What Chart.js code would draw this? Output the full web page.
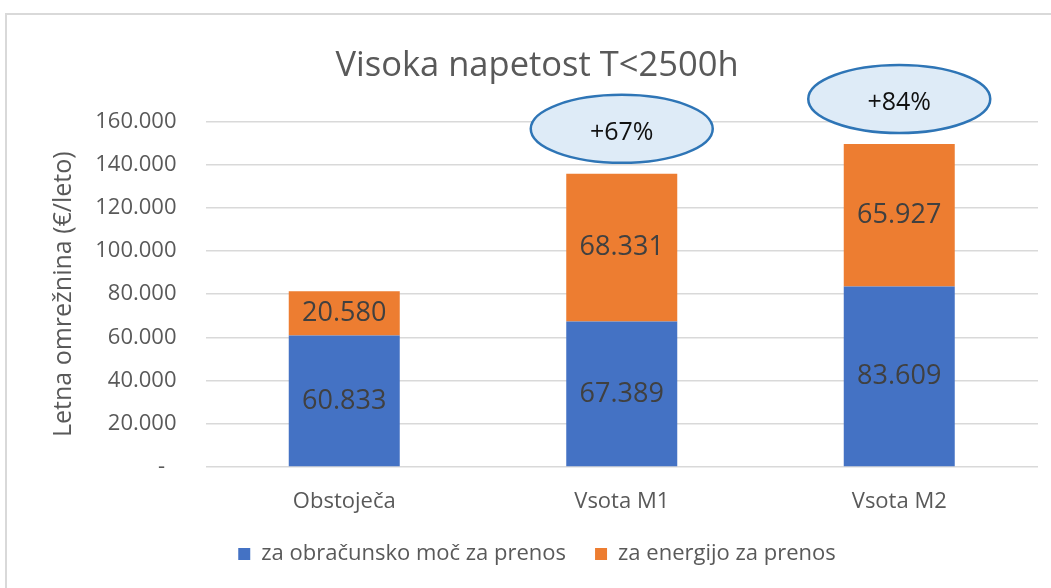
<!DOCTYPE html>
<html>
<head>
<meta charset="utf-8">
<script src="https://cdn.jsdelivr.net/npm/chart.js@4.4.1/dist/chart.umd.min.js"></script>
<style>
body{margin:0;background:#fff;overflow:hidden}
#okvir{position:absolute;left:5px;top:13px;width:1100px;height:620px;border:2px solid #d9d9d9}
#platno{position:absolute;left:0;top:0}
</style>
</head>
<body>
<div id="okvir"></div>
<canvas id="platno" width="1051" height="588"></canvas>
<script>
const kategorije = ['Obstoječa', 'Vsota M1', 'Vsota M2']
const moc = [60833, 67389, 83609]
const energija = [20580, 68331, 65927]
const povecanje = ['', '+67%', '+84%']
const FONT = "'Open Sans', sans-serif"

function formatiraj(v){
    if(v === 0) return '-  '
    return String(v).replace(/\B(?=(\d{3})+(?!\d))/g, '.')
}

const oznakePlugin = {
    id: 'oznake',
    afterDatasetsDraw(chart){
        const ctx = chart.ctx
        ctx.save()
        ctx.font = '27px ' + FONT
        ctx.fillStyle = '#404040'
        ctx.textAlign = 'center'
        ctx.textBaseline = 'middle'
        chart.data.datasets.forEach((ds, i) => {
            chart.getDatasetMeta(i).data.forEach((bar, j) => {
                const p = bar.getCenterPoint()
                ctx.fillText(formatiraj(ds.data[j]), p.x, p.y)
            })
        })
        ctx.restore()
    },
    afterDraw(chart){
        // elipse z odstotkom nad stolpci
        const ctx = chart.ctx
        const vrh = chart.getDatasetMeta(1).data
        ctx.save()
        povecanje.forEach((txt, j) => {
            if(!txt) return
            const x = vrh[j].x
            const y = vrh[j].y - 45
            ctx.beginPath()
            ctx.ellipse(x, y, 91, 34, 0, 0, Math.PI * 2)
            ctx.fillStyle = '#deebf7'
            ctx.fill()
            ctx.lineWidth = 2.5
            ctx.strokeStyle = '#2e75b6'
            ctx.stroke()
            ctx.font = '25px ' + FONT
            ctx.fillStyle = '#111'
            ctx.textAlign = 'center'
            ctx.textBaseline = 'middle'
            ctx.fillText(txt, x, y + 4)
        })
        ctx.restore()
    }
}

new Chart(document.getElementById('platno'), {
    type: 'bar',
    data: {
        labels: kategorije,
        datasets: [
            {
                label: 'za obračunsko moč za prenos',
                data: moc,
                backgroundColor: '#4472c4',
                barPercentage: 0.4,
                categoryPercentage: 1
            },
            {
                label: 'za energijo za prenos',
                data: energija,
                backgroundColor: '#ed7d31',
                barPercentage: 0.4,
                categoryPercentage: 1
            }
        ]
    },
    options: {
        responsive: false,
        animation: false,
        layout: { padding: { left: 36, right: 13, top: 0, bottom: 13 } },
        plugins: {
            tooltip: { enabled: false },
            title: {
                display: true,
                text: 'Visoka napetost T<2500h',
                color: '#595959',
                font: { family: FONT, size: 34.5, weight: 'normal', lineHeight: 1.2 },
                padding: { top: 45, bottom: 35 }
            },
            legend: {
                position: 'bottom',
                labels: {
                    color: '#595959',
                    font: { family: FONT, size: 22 },
                    boxWidth: 12,
                    boxHeight: 12,
                    padding: 29
                }
            }
        },
        scales: {
            x: {
                stacked: true,
                grid: { display: false },
                border: { display: false },
                ticks: { color: '#595959', font: { family: FONT, size: 22 }, padding: 14 },
                afterFit(s){ s.height = 47 }
            },
            y: {
                stacked: true,
                min: 0,
                max: 160000,
                grid: { color: '#d9d9d9', lineWidth: 1.5, drawTicks: false },
                border: { display: false },
                ticks: {
                    stepSize: 20000,
                    color: '#595959',
                    font: { family: FONT, size: 22 },
                    padding: 29,
                    callback: v => formatiraj(v)
                },
                title: {
                    display: true,
                    text: 'Letna omrežnina (€/leto)',
                    color: '#595959',
                    font: { family: FONT, size: 25 },
                    padding: { top: 13, bottom: 4 }
                },
                afterFit(s){ s.width = 169.5 }
            }
        }
    },
    plugins: [oznakePlugin]
})
</script>
</body>
</html>
